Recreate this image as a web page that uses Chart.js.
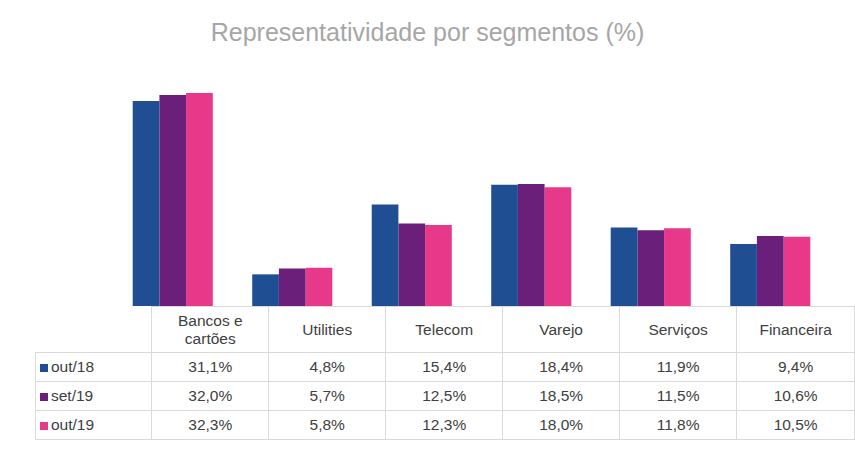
<!DOCTYPE html><html><head><meta charset="utf-8">
<script src="https://cdn.jsdelivr.net/npm/chart.js@4/dist/chart.umd.min.js"></script>
<style>
body{margin:0;width:855px;height:450px;background:#fff;font-family:"Liberation Sans",Arial,sans-serif;position:relative;overflow:hidden}
#title{position:absolute;top:18px;left:0;width:855px;text-align:center;font-size:25px;color:#A6A6A6}
#wrap{position:absolute;left:113px;top:60px;width:717px;height:246px}
table{position:absolute;left:35px;top:306px;border-collapse:collapse;font-size:15.5px;color:#404040}
td{border:1px solid #D9D9D9;text-align:center;padding:0;width:118.5px;height:28px}
td.l{width:77px;text-align:left;padding-left:4px;box-sizing:border-box}
tr.h td{height:45px;line-height:18px}
td.e{border:none;border-right:1px solid #D9D9D9}
.sq{display:inline-block;width:8px;height:8px;margin-right:3px}
</style></head><body>
<div id="title">Representatividade por segmentos (%)</div>
<div id="wrap"><canvas id="c"></canvas></div>
<table id="t"></table>
<script>
const categories=["Bancos e\ncartões","Utilities","Telecom","Varejo","Serviços","Financeira"];
const seriesNames=["out/18","set/19","out/19"];
const out18=[31.1,4.8,15.4,18.4,11.9,9.4];
const set19=[32.0,5.7,12.5,18.5,11.5,10.6];
const out19=[32.3,5.8,12.3,18.0,11.8,10.5];
const colors=["#1F4E93","#6A1F7A","#E8388A"];
const series=[out18,set19,out19];
new Chart(document.getElementById('c'),{type:'bar',
data:{labels:categories,datasets:series.map((d,i)=>({label:seriesNames[i],data:d,backgroundColor:colors[i]}))},
options:{responsive:true,maintainAspectRatio:false,animation:false,categoryPercentage:0.67,barPercentage:1,
plugins:{legend:{display:false},tooltip:{enabled:false}},
scales:{x:{display:false},y:{display:false,min:0,max:37.3}}}});
const fmt=v=>v.toFixed(1).replace('.',',')+'%';
let h='<tr class="h"><td class="e"></td>'+categories.map(c=>'<td>'+c.replace('\n','<br>')+'</td>').join('')+'</tr>';
series.forEach((d,i)=>{h+='<tr><td class="l"><span class="sq" style="background:'+colors[i]+'"></span>'+seriesNames[i]+'</td>'+d.map(v=>'<td>'+fmt(v)+'</td>').join('')+'</tr>';});
document.getElementById('t').innerHTML=h;
</script></body></html>
